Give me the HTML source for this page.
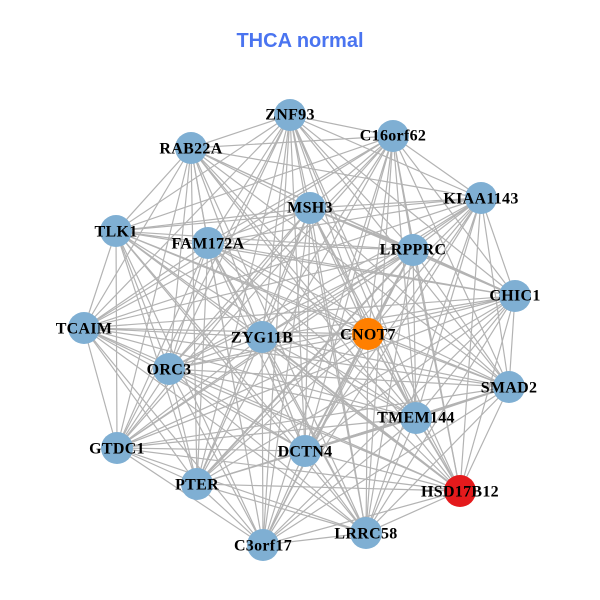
<!DOCTYPE html>
<html><head><meta charset="utf-8"><style>
html,body{margin:0;padding:0;background:#fff}
svg{display:block}
.n text{font:bold 16px "Liberation Serif",serif;fill:#000;text-anchor:middle;letter-spacing:.3px}
</style></head><body>
<svg width="600" height="600" viewBox="0 0 600 600" xmlns="http://www.w3.org/2000/svg">
<rect width="600" height="600" fill="#fff"/>
<text x="300" y="47" font-family="Liberation Sans, sans-serif" font-weight="bold" font-size="20" fill="#4a74f0" text-anchor="middle">THCA normal</text>
<g fill="none" stroke="#b3b3b3" stroke-width="1.2" stroke-linejoin="round">
<path d="M290 115 393 136 290 115 481 198 290 115 515 296 290 115 509 387 290 115 460 491 290 115 366 533 290 115 263 545 290 115 197 484 290 115 117 448 290 115 84 328 290 115 116 231 290 115 191 148 290 115 208 243 290 115 310 208 290 115 413 250 290 115 368 334 290 115 416 418 290 115 305 451 290 115 169 369 290 115 262 337"/>
<path d="M393 136 481 198 393 136 515 296 393 136 509 387 393 136 460 491 393 136 366 533 393 136 263 545 393 136 197 484 393 136 117 448 393 136 84 328 393 136 116 231 393 136 191 148 393 136 208 243 393 136 310 208 393 136 413 250 393 136 368 334 393 136 416 418 393 136 305 451 393 136 169 369 393 136 262 337"/>
<path d="M481 198 515 296 481 198 509 387 481 198 460 491 481 198 366 533 481 198 263 545 481 198 197 484 481 198 117 448 481 198 84 328 481 198 116 231 481 198 191 148 481 198 208 243 481 198 310 208 481 198 413 250 481 198 368 334 481 198 416 418 481 198 305 451 481 198 169 369 481 198 262 337"/>
<path d="M515 296 509 387 515 296 460 491 515 296 366 533 515 296 263 545 515 296 197 484 515 296 117 448 515 296 84 328 515 296 116 231 515 296 191 148 515 296 208 243 515 296 310 208 515 296 413 250 515 296 368 334 515 296 416 418 515 296 305 451 515 296 169 369 515 296 262 337"/>
<path d="M509 387 460 491 509 387 366 533 509 387 263 545 509 387 197 484 509 387 117 448 509 387 84 328 509 387 116 231 509 387 191 148 509 387 208 243 509 387 310 208 509 387 413 250 509 387 368 334 509 387 416 418 509 387 305 451 509 387 169 369 509 387 262 337"/>
<path d="M460 491 366 533 460 491 263 545 460 491 197 484 460 491 117 448 460 491 84 328 460 491 116 231 460 491 191 148 460 491 208 243 460 491 310 208 460 491 413 250 460 491 368 334 460 491 416 418 460 491 305 451 460 491 169 369 460 491 262 337"/>
<path d="M366 533 263 545 366 533 197 484 366 533 117 448 366 533 84 328 366 533 116 231 366 533 191 148 366 533 208 243 366 533 310 208 366 533 413 250 366 533 368 334 366 533 416 418 366 533 305 451 366 533 169 369 366 533 262 337"/>
<path d="M263 545 197 484 263 545 117 448 263 545 84 328 263 545 116 231 263 545 191 148 263 545 208 243 263 545 310 208 263 545 413 250 263 545 368 334 263 545 416 418 263 545 305 451 263 545 169 369 263 545 262 337"/>
<path d="M197 484 117 448 197 484 84 328 197 484 116 231 197 484 191 148 197 484 208 243 197 484 310 208 197 484 413 250 197 484 368 334 197 484 416 418 197 484 305 451 197 484 169 369 197 484 262 337"/>
<path d="M117 448 84 328 117 448 116 231 117 448 191 148 117 448 208 243 117 448 310 208 117 448 413 250 117 448 368 334 117 448 416 418 117 448 305 451 117 448 169 369 117 448 262 337"/>
<path d="M84 328 116 231 84 328 191 148 84 328 208 243 84 328 310 208 84 328 413 250 84 328 368 334 84 328 416 418 84 328 305 451 84 328 169 369 84 328 262 337"/>
<path d="M116 231 191 148 116 231 208 243 116 231 310 208 116 231 413 250 116 231 368 334 116 231 416 418 116 231 305 451 116 231 169 369 116 231 262 337"/>
<path d="M191 148 208 243 191 148 310 208 191 148 413 250 191 148 368 334 191 148 416 418 191 148 305 451 191 148 169 369 191 148 262 337"/>
<path d="M208 243 310 208 208 243 413 250 208 243 368 334 208 243 416 418 208 243 305 451 208 243 169 369 208 243 262 337"/>
<path d="M310 208 413 250 310 208 368 334 310 208 416 418 310 208 305 451 310 208 169 369 310 208 262 337"/>
<path d="M413 250 368 334 413 250 416 418 413 250 305 451 413 250 169 369 413 250 262 337"/>
<path d="M368 334 416 418 368 334 305 451 368 334 169 369 368 334 262 337"/>
<path d="M416 418 305 451 416 418 169 369 416 418 262 337"/>
<path d="M305 451 169 369 305 451 262 337"/>
<path d="M169 369 262 337"/>
</g>
<g fill="none" stroke="#b3b3b3" stroke-width="2">
<path d="M509 387 305 451M413 250 515 296M310 208 413 250M413 250 305 451M197 484 413 250M262 337 460 491"/>
</g>
<g fill="#7fafd3">
<circle cx="290" cy="115" r="16"/><circle cx="393" cy="136" r="16"/><circle cx="481" cy="198" r="16"/><circle cx="515" cy="296" r="16"/><circle cx="509" cy="387" r="16"/><circle cx="366" cy="533" r="16"/><circle cx="263" cy="545" r="16"/><circle cx="197" cy="484" r="16"/><circle cx="117" cy="448" r="16"/><circle cx="84" cy="328" r="16"/><circle cx="116" cy="231" r="16"/><circle cx="191" cy="148" r="16"/><circle cx="208" cy="243" r="16"/><circle cx="310" cy="208" r="16"/><circle cx="413" cy="250" r="16"/><circle cx="416" cy="418" r="16"/><circle cx="305" cy="451" r="16"/><circle cx="169" cy="369" r="16"/><circle cx="262" cy="337" r="16"/>
<circle cx="460" cy="491" r="16" fill="#e41a1c"/>
<circle cx="368" cy="334" r="16" fill="#ff7f00"/>
</g>
<g class="n" transform="translate(0,-0.5)">
<text x="290" y="120">ZNF93</text>
<text x="393" y="141">C16orf62</text>
<text x="481" y="204">KIAA1143</text>
<text x="515" y="301">CHIC1</text>
<text x="509" y="393">SMAD2</text>
<text x="460" y="497">HSD17B12</text>
<text x="366" y="539">LRRC58</text>
<text x="263" y="551">C3orf17</text>
<text x="197" y="490">PTER</text>
<text x="117" y="454">GTDC1</text>
<text x="84" y="334">TCAIM</text>
<text x="116" y="237">TLK1</text>
<text x="191" y="154">RAB22A</text>
<text x="208" y="249">FAM172A</text>
<text x="310" y="213">MSH3</text>
<text x="413" y="255">LRPPRC</text>
<text x="368" y="340">CNOT7</text>
<text x="416" y="423">TMEM144</text>
<text x="305" y="457">DCTN4</text>
<text x="169" y="375">ORC3</text>
<text x="262" y="343">ZYG11B</text>
</g>
</svg>
</body></html>
